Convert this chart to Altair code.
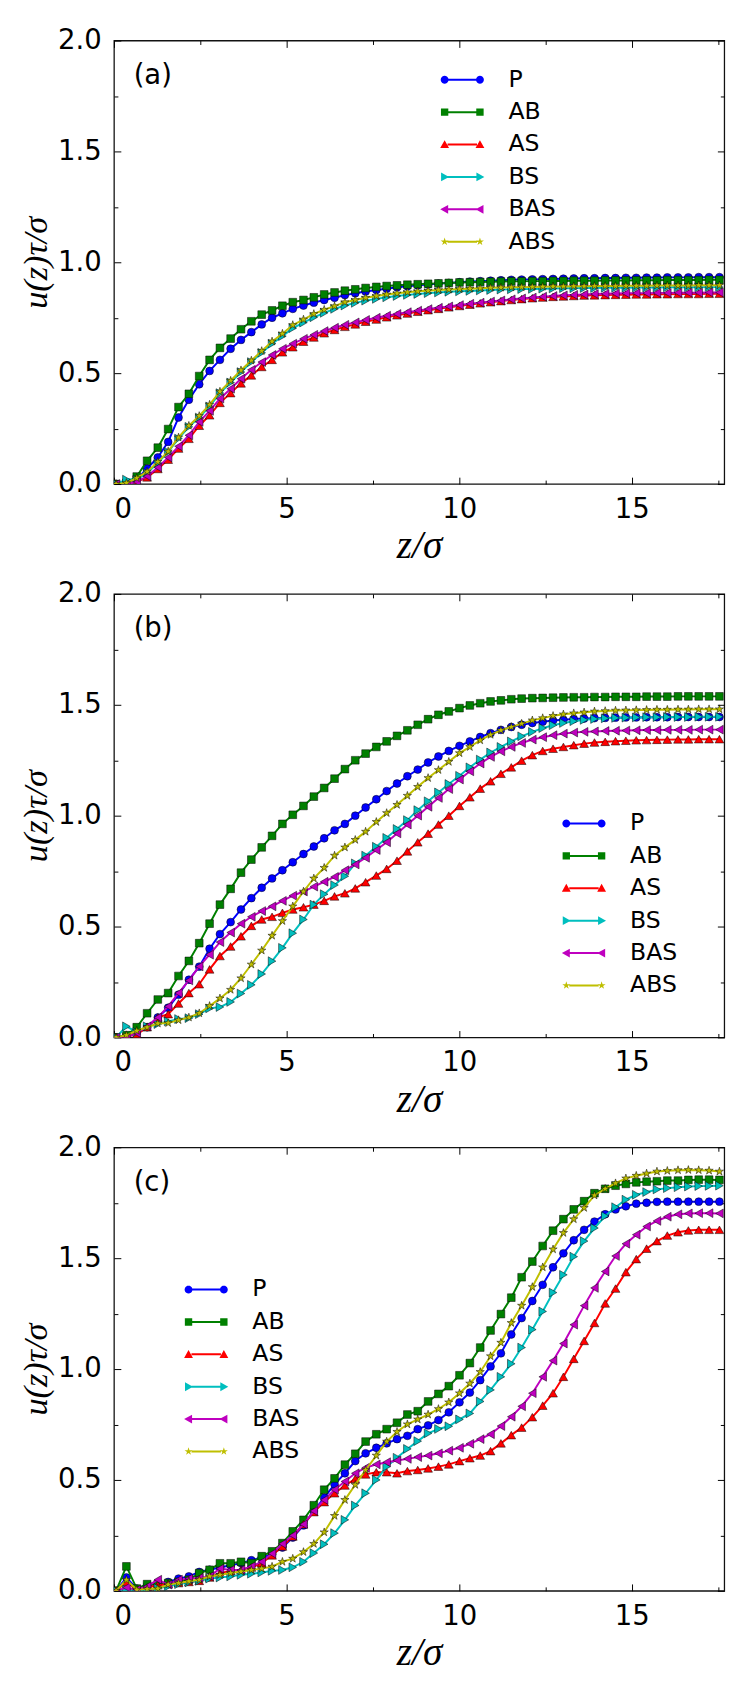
import math

import altair as alt
import pandas as pd

W = 622
H = 452
X_MAX = 17.68

SERIES = ["P", "AB", "AS", "BS", "BAS", "ABS"]
COLORS = ["#0000ff", "#008000", "#ff0000", "#00bfbf", "#bf00bf", "#bfbf00"]

# bin centres along z/sigma
Z = [0.06, 0.36, 0.66, 0.96, 1.27, 1.57, 1.87, 2.17, 2.47, 2.77,
     3.07, 3.38, 3.68, 3.98, 4.28, 4.58, 4.88, 5.18, 5.49, 5.79,
     6.09, 6.39, 6.69, 6.99, 7.29, 7.60, 7.90, 8.20, 8.50, 8.80,
     9.10, 9.40, 9.70, 10.01, 10.31, 10.61, 10.91, 11.21, 11.51, 11.81,
     12.12, 12.42, 12.72, 13.02, 13.32, 13.62, 13.92, 14.23, 14.53, 14.83,
     15.13, 15.43, 15.73, 16.03, 16.34, 16.64, 16.94, 17.24, 17.54]

# panel (a)
A_P = [0.0, 0.0, 0.02, 0.07, 0.12, 0.19, 0.30, 0.38, 0.45, 0.51,
       0.56, 0.61, 0.65, 0.685, 0.72, 0.75, 0.77, 0.79, 0.805, 0.818,
       0.83, 0.84, 0.852, 0.86, 0.868, 0.875, 0.881, 0.887, 0.892, 0.896,
       0.90, 0.904, 0.907, 0.91, 0.913, 0.915, 0.917, 0.919, 0.921, 0.922,
       0.923, 0.924, 0.925, 0.926, 0.927, 0.928, 0.928, 0.929, 0.929, 0.93,
       0.93, 0.931, 0.931, 0.932, 0.932, 0.932, 0.933, 0.933, 0.933]
A_AB = [0.0, 0.005, 0.034, 0.105, 0.164, 0.248, 0.347, 0.407, 0.487, 0.56,
        0.614, 0.656, 0.698, 0.734, 0.764, 0.783, 0.804, 0.82, 0.83, 0.842,
        0.855, 0.864, 0.872, 0.878, 0.884, 0.889, 0.893, 0.896, 0.899, 0.901,
        0.903, 0.905, 0.907, 0.909, 0.91, 0.911, 0.912, 0.913, 0.914, 0.914,
        0.915, 0.915, 0.916, 0.916, 0.917, 0.917, 0.917, 0.918, 0.918, 0.918,
        0.919, 0.919, 0.919, 0.92, 0.92, 0.92, 0.92, 0.921, 0.921]
A_AS = [0.0, 0.0, 0.01, 0.03, 0.068, 0.11, 0.16, 0.204, 0.263, 0.31,
        0.366, 0.41, 0.454, 0.49, 0.528, 0.56, 0.594, 0.617, 0.642, 0.661,
        0.68, 0.695, 0.709, 0.72, 0.732, 0.742, 0.752, 0.761, 0.769, 0.777,
        0.784, 0.79, 0.797, 0.803, 0.809, 0.815, 0.82, 0.825, 0.83, 0.834,
        0.838, 0.841, 0.844, 0.846, 0.848, 0.85, 0.851, 0.852, 0.853, 0.854,
        0.855, 0.855, 0.856, 0.856, 0.857, 0.857, 0.857, 0.858, 0.858]
A_BS = [0.0, 0.02, 0.02, 0.05, 0.095, 0.145, 0.205, 0.258, 0.30, 0.35,
        0.41, 0.458, 0.505, 0.55, 0.592, 0.633, 0.667, 0.703, 0.728, 0.752,
        0.772, 0.79, 0.805, 0.817, 0.827, 0.835, 0.842, 0.848, 0.853, 0.857,
        0.861, 0.864, 0.867, 0.869, 0.871, 0.873, 0.875, 0.877, 0.878, 0.879,
        0.88, 0.881, 0.882, 0.883, 0.883, 0.884, 0.884, 0.885, 0.885, 0.885,
        0.886, 0.886, 0.886, 0.887, 0.887, 0.887, 0.887, 0.888, 0.888]
A_BAS = [0.0, 0.0, 0.01, 0.035, 0.075, 0.12, 0.17, 0.22, 0.28, 0.33,
         0.385, 0.43, 0.475, 0.515, 0.55, 0.582, 0.61, 0.633, 0.655, 0.673,
         0.69, 0.705, 0.718, 0.729, 0.74, 0.75, 0.759, 0.767, 0.775, 0.782,
         0.789, 0.795, 0.801, 0.807, 0.813, 0.818, 0.823, 0.828, 0.833, 0.837,
         0.841, 0.845, 0.848, 0.851, 0.853, 0.855, 0.857, 0.858, 0.859, 0.86,
         0.861, 0.861, 0.862, 0.862, 0.863, 0.863, 0.863, 0.864, 0.864]
A_ABS = [0.0, 0.005, 0.027, 0.056, 0.10, 0.147, 0.21, 0.263, 0.307, 0.358,
         0.417, 0.466, 0.513, 0.557, 0.60, 0.643, 0.678, 0.717, 0.742, 0.767,
         0.786, 0.802, 0.82, 0.83, 0.84, 0.848, 0.855, 0.86, 0.865, 0.869,
         0.872, 0.875, 0.877, 0.879, 0.881, 0.883, 0.885, 0.886, 0.887, 0.888,
         0.889, 0.89, 0.891, 0.891, 0.892, 0.892, 0.893, 0.893, 0.893, 0.894,
         0.894, 0.894, 0.895, 0.895, 0.895, 0.895, 0.896, 0.896, 0.896]

# panel (b)
B_P = [0.0, 0.005, 0.02, 0.046, 0.09, 0.134, 0.193, 0.26, 0.319, 0.40,
       0.466, 0.52, 0.577, 0.628, 0.675, 0.717, 0.754, 0.79, 0.827, 0.861,
       0.898, 0.934, 0.963, 1.0, 1.037, 1.074, 1.111, 1.145, 1.178, 1.208,
       1.24, 1.267, 1.292, 1.315, 1.335, 1.355, 1.372, 1.387, 1.40, 1.41,
       1.418, 1.424, 1.429, 1.433, 1.436, 1.438, 1.44, 1.441, 1.442, 1.443,
       1.443, 1.444, 1.444, 1.444, 1.445, 1.445, 1.445, 1.445, 1.445]
B_AB = [0.0, 0.01, 0.046, 0.109, 0.171, 0.20, 0.277, 0.345, 0.425, 0.513,
        0.599, 0.67, 0.743, 0.802, 0.857, 0.909, 0.963, 1.004, 1.044, 1.086,
        1.125, 1.167, 1.21, 1.25, 1.28, 1.31, 1.335, 1.36, 1.385, 1.41,
        1.435, 1.455, 1.47, 1.485, 1.497, 1.507, 1.515, 1.52, 1.525, 1.528,
        1.53, 1.531, 1.532, 1.533, 1.534, 1.534, 1.535, 1.535, 1.536, 1.536,
        1.536, 1.537, 1.537, 1.537, 1.538, 1.538, 1.538, 1.538, 1.538]
B_AS = [0.0, 0.005, 0.013, 0.046, 0.09, 0.105, 0.153, 0.20, 0.24, 0.307,
        0.367, 0.41, 0.456, 0.503, 0.532, 0.544, 0.562, 0.577, 0.587, 0.599,
        0.616, 0.636, 0.65, 0.672, 0.70, 0.73, 0.76, 0.797, 0.839, 0.88,
        0.919, 0.96, 1.0, 1.044, 1.083, 1.122, 1.155, 1.189, 1.218, 1.248,
        1.273, 1.292, 1.302, 1.31, 1.318, 1.325, 1.33, 1.333, 1.336, 1.338,
        1.34, 1.341, 1.342, 1.343, 1.344, 1.344, 1.345, 1.345, 1.345]
B_BS = [0.0, 0.05, 0.024, 0.05, 0.06, 0.072, 0.083, 0.087, 0.105, 0.131,
        0.137, 0.16, 0.198, 0.237, 0.286, 0.344, 0.404, 0.47, 0.532, 0.599,
        0.646, 0.687, 0.727, 0.785, 0.82, 0.86, 0.90, 0.94, 0.98, 1.025,
        1.065, 1.105, 1.143, 1.18, 1.218, 1.253, 1.285, 1.31, 1.335, 1.358,
        1.378, 1.395, 1.408, 1.418, 1.426, 1.432, 1.436, 1.439, 1.441, 1.442,
        1.443, 1.444, 1.444, 1.445, 1.445, 1.445, 1.446, 1.446, 1.446]
B_BAS = [0.0, 0.0, 0.02, 0.05, 0.09, 0.14, 0.20, 0.257, 0.32, 0.373,
         0.43, 0.473, 0.513, 0.544, 0.57, 0.591, 0.616, 0.639, 0.658, 0.68,
         0.702, 0.724, 0.754, 0.78, 0.81, 0.845, 0.88, 0.92, 0.96, 1.0,
         1.04, 1.08, 1.12, 1.163, 1.2, 1.235, 1.265, 1.29, 1.31, 1.328,
         1.343, 1.354, 1.363, 1.37, 1.375, 1.378, 1.38, 1.382, 1.383, 1.384,
         1.385, 1.386, 1.386, 1.387, 1.387, 1.387, 1.388, 1.388, 1.388]
B_ABS = [0.0, 0.01, 0.03, 0.046, 0.063, 0.065, 0.078, 0.09, 0.109, 0.142,
         0.176, 0.215, 0.267, 0.329, 0.392, 0.459, 0.525, 0.591, 0.658, 0.717,
         0.765, 0.82, 0.857, 0.891, 0.928, 0.972, 1.012, 1.049, 1.09, 1.13,
         1.17, 1.206, 1.243, 1.282, 1.31, 1.34, 1.365, 1.385, 1.40, 1.415,
         1.43, 1.44, 1.45, 1.457, 1.462, 1.466, 1.47, 1.472, 1.474, 1.475,
         1.476, 1.477, 1.478, 1.478, 1.479, 1.479, 1.48, 1.48, 1.48]

# panel (c)
C_P = [0.0, 0.06, 0.01, 0.025, 0.03, 0.04, 0.055, 0.065, 0.085, 0.095,
       0.105, 0.115, 0.125, 0.138, 0.15, 0.165, 0.195, 0.24, 0.295, 0.36,
       0.42, 0.48, 0.53, 0.585, 0.62, 0.645, 0.665, 0.684, 0.699, 0.729,
       0.746, 0.77, 0.805, 0.85, 0.894, 0.95, 1.012, 1.071, 1.156, 1.23,
       1.307, 1.38, 1.459, 1.522, 1.581, 1.628, 1.665, 1.698, 1.72, 1.734,
       1.746, 1.75, 1.754, 1.755, 1.755, 1.755, 1.755, 1.755, 1.755]
C_AB = [0.0, 0.11, 0.01, 0.03, 0.03, 0.035, 0.04, 0.05, 0.08, 0.095,
        0.124, 0.124, 0.131, 0.125, 0.156, 0.178, 0.215, 0.268, 0.32, 0.386,
        0.456, 0.507, 0.569, 0.618, 0.673, 0.706, 0.729, 0.758, 0.795, 0.81,
        0.854, 0.888, 0.923, 0.972, 1.027, 1.097, 1.174, 1.248, 1.322, 1.414,
        1.485, 1.555, 1.624, 1.676, 1.72, 1.757, 1.793, 1.813, 1.827, 1.835,
        1.842, 1.845, 1.847, 1.85, 1.85, 1.853, 1.854, 1.854, 1.853]
C_AS = [0.0, 0.04, 0.005, 0.015, 0.025, 0.03, 0.035, 0.04, 0.045, 0.06,
        0.08, 0.09, 0.095, 0.105, 0.125, 0.16, 0.20, 0.245, 0.30, 0.355,
        0.40, 0.44, 0.475, 0.505, 0.525, 0.535, 0.535, 0.53, 0.54, 0.545,
        0.552, 0.56, 0.57, 0.585, 0.598, 0.61, 0.63, 0.665, 0.702, 0.736,
        0.783, 0.835, 0.891, 0.965, 1.046, 1.127, 1.208, 1.296, 1.363, 1.437,
        1.496, 1.543, 1.577, 1.602, 1.617, 1.625, 1.628, 1.628, 1.628]
C_BS = [0.0, 0.006, 0.0, 0.005, 0.012, 0.02, 0.03, 0.038, 0.045, 0.055,
        0.06, 0.065, 0.072, 0.077, 0.083, 0.09, 0.094, 0.106, 0.131, 0.17,
        0.21, 0.26, 0.32, 0.385, 0.44, 0.50, 0.56, 0.60, 0.64, 0.675,
        0.71, 0.73, 0.742, 0.773, 0.80, 0.854, 0.906, 0.965, 1.024, 1.097,
        1.178, 1.26, 1.345, 1.425, 1.507, 1.577, 1.636, 1.69, 1.73, 1.764,
        1.786, 1.798, 1.81, 1.816, 1.82, 1.823, 1.825, 1.826, 1.827]
C_BAS = [0.0, 0.015, 0.005, 0.02, 0.05, 0.028, 0.05, 0.055, 0.058, 0.065,
         0.10, 0.094, 0.094, 0.11, 0.131, 0.168, 0.212, 0.25, 0.30, 0.36,
         0.41, 0.456, 0.493, 0.53, 0.555, 0.57, 0.58, 0.588, 0.595, 0.603,
         0.61, 0.62, 0.632, 0.645, 0.663, 0.684, 0.706, 0.743, 0.785, 0.832,
         0.891, 0.965, 1.038, 1.115, 1.20, 1.286, 1.366, 1.44, 1.51, 1.565,
         1.606, 1.643, 1.668, 1.687, 1.698, 1.702, 1.703, 1.703, 1.702]
C_ABS = [0.0, 0.05, 0.005, 0.008, 0.01, 0.028, 0.035, 0.043, 0.05, 0.065,
         0.072, 0.08, 0.087, 0.094, 0.10, 0.109, 0.131, 0.145, 0.175, 0.212,
         0.264, 0.338, 0.41, 0.478, 0.545, 0.61, 0.673, 0.717, 0.751, 0.773,
         0.795, 0.82, 0.85, 0.891, 0.935, 0.987, 1.058, 1.119, 1.208, 1.286,
         1.37, 1.459, 1.54, 1.614, 1.676, 1.727, 1.783, 1.813, 1.838, 1.86,
         1.872, 1.882, 1.891, 1.894, 1.897, 1.898, 1.897, 1.895, 1.891]


def _poly(points, dx=0.0, s=1.0):
    return "M" + "L".join(f"{dx + s * x:.3f},{s * y:.3f}" for x, y in points) + "Z"


STAR_PTS = [(math.sin(math.pi * i / 5) * (1.0 if i % 2 == 0 else 0.382),
             -math.cos(math.pi * i / 5) * (1.0 if i % 2 == 0 else 0.382))
            for i in range(10)]
CIRCLE_PTS = [(math.cos(2 * math.pi * i / 20), math.sin(2 * math.pi * i / 20))
              for i in range(20)]
SQUARE_PTS = [(-1, -1), (1, -1), (1, 1), (-1, 1)]
TUP_PTS = [(0, -1), (1, 0.8), (-1, 0.8)]
TRIGHT_PTS = [(1, 0), (-0.8, 1), (-0.8, -1)]
TLEFT_PTS = [(-1, 0), (0.8, -1), (0.8, 1)]

STAR = _poly(STAR_PTS)
SHAPES = ["circle", "square", "triangle-up", "triangle-right", "triangle-left", STAR]
SIZES = [64, 62, 80, 80, 80, 78]

# legend glyph: a short line with a marker at each end
LEG_MARKERS = [(CIRCLE_PTS, 0.8), (SQUARE_PTS, 0.75), (TUP_PTS, 0.9),
               (TRIGHT_PTS, 0.9), (TLEFT_PTS, 0.9), (STAR_PTS, 0.85)]
LEG_LINE = _poly([(-3.0, -0.2), (3.0, -0.2), (3.0, 0.2), (-3.0, 0.2)])
LEG_PATHS = [LEG_LINE + _poly(p, -3.6, s) + _poly(p, 3.6, s) for p, s in LEG_MARKERS]


def make_frame(columns):
    rows = []
    for name, vals in zip(SERIES, columns):
        assert len(vals) == len(Z), (name, len(vals))
        rows += [{"z": z, "u": u, "series": name} for z, u in zip(Z, vals)]
    return pd.DataFrame(rows)


X_SCALE = alt.Scale(domain=[0, X_MAX], nice=False, zero=False)
Y_SCALE = alt.Scale(domain=[0, 2], nice=False)

X_TICKS = [0, 2.5, 5, 7.5, 10, 12.5, 15, 17.5]
Y_TICKS = [0, 0.25, 0.5, 0.75, 1.0, 1.25, 1.5, 1.75, 2.0]


def inner_ticks(orient, offset, values, step):
    size = {"condition": {"test": f"abs(datum.value / {step} - round(datum.value / {step})) < 0.001",
                          "value": 7},
            "value": 4}
    return alt.Axis(orient=orient, offset=offset, values=values, labels=False, domain=False,
                    grid=False, ticks=True, tickColor="black", tickWidth=1, tickSize=size,
                    title=None)


LABEL_X = alt.Axis(values=[0, 5, 10, 15], format="d", ticks=False, tickSize=0, domain=False,
                   grid=False, labelFont="DejaVu Sans", labelFontSize=28, labelColor="black",
                   labelPadding=12, title="z/σ", titleFont="Liberation Serif",
                   titleFontStyle="italic", titleFontWeight="normal", titleFontSize=40,
                   titleColor="black", titlePadding=3)
LABEL_Y = alt.Axis(values=[0, 0.5, 1.0, 1.5, 2.0], format=".1f", ticks=False, tickSize=0,
                   domain=False, grid=False, labelFont="DejaVu Sans", labelFontSize=28,
                   labelColor="black", labelPadding=13, title="u(z)τ/σ",
                   titleFont="Liberation Serif", titleFontStyle="italic",
                   titleFontWeight="normal", titleFontSize=35, titleColor="black",
                   titlePadding=4)


def make_panel(columns, tag, leg_x, leg_y):
    df = make_frame(columns)
    base = alt.Chart(df)
    layers = []
    for i, (name, col, shp, sz) in enumerate(zip(SERIES, COLORS, SHAPES, SIZES)):
        sub = base.transform_filter(alt.datum.series == name)
        if i == 0:
            ax_line = (LABEL_X, LABEL_Y)
            ax_pts = (inner_ticks("top", -H, X_TICKS, 5), inner_ticks("right", -W, Y_TICKS, 0.5))
        else:
            ax_line = (None, None)
            ax_pts = (None, None)
        line = sub.mark_line(color=col, strokeWidth=2, clip=True).encode(
            x=alt.X("z:Q", scale=X_SCALE, axis=ax_line[0]),
            y=alt.Y("u:Q", scale=Y_SCALE, axis=ax_line[1]),
        )
        pts = sub.mark_point(filled=True, shape=shp, size=sz, fill=col, stroke="black",
                             strokeWidth=0.5, opacity=1, clip=True).encode(
            x=alt.X("z:Q", scale=X_SCALE, axis=ax_pts[0]),
            y=alt.Y("u:Q", scale=Y_SCALE, axis=ax_pts[1]),
        )
        layers += [line, pts]

    legend = alt.Legend(orient="none", legendX=leg_x, legendY=leg_y, title=None,
                        direction="vertical", labelFont="DejaVu Sans", labelFontSize=24,
                        labelColor="black", symbolSize=100, symbolStrokeWidth=0,
                        symbolOpacity=1, labelOffset=35, rowPadding=9, padding=0, offset=0)
    key = base.mark_point(filled=True, opacity=0).encode(
        x=alt.X("z:Q", scale=X_SCALE, axis=inner_ticks("bottom", -H, X_TICKS, 5)),
        y=alt.Y("u:Q", scale=Y_SCALE, axis=inner_ticks("left", -W, Y_TICKS, 0.5)),
        color=alt.Color("series:N", scale=alt.Scale(domain=SERIES, range=COLORS), legend=legend),
        shape=alt.Shape("series:N", scale=alt.Scale(domain=SERIES, range=LEG_PATHS), legend=legend),
    )
    layers.append(key)

    label = alt.Chart(pd.DataFrame({"label": [tag]})).mark_text(
        font="DejaVu Sans", fontSize=28, align="left", baseline="middle", color="black"
    ).encode(
        x=alt.XDatum(0.57, scale=X_SCALE, axis=None),
        y=alt.YDatum(1.84, scale=Y_SCALE, axis=None),
        text="label:N",
    )
    layers.append(label)

    return alt.layer(*layers).resolve_axis(x="independent", y="independent").properties(
        width=W, height=H
    )


panel_a = make_panel([A_P, A_AB, A_AS, A_BS, A_BAS, A_ABS], "(a)", 343, 28)
panel_b = make_panel([B_P, B_AB, B_AS, B_BS, B_BAS, B_ABS], "(b)", 467, 222)
panel_c = make_panel([C_P, C_AB, C_AS, C_BS, C_BAS, C_ABS], "(c)", 82, 133)

chart = alt.vconcat(panel_a, panel_b, panel_c, spacing=13).resolve_scale(
    color="independent", shape="independent"
).resolve_legend(
    color="independent", shape="independent"
).properties(
    padding={"left": 10, "top": 2, "right": 5, "bottom": 5},
    background="white",
).configure_view(stroke="#111111", strokeWidth=1.3)

chart.save("out.html", embed_options={"renderer": "svg", "actions": False})
